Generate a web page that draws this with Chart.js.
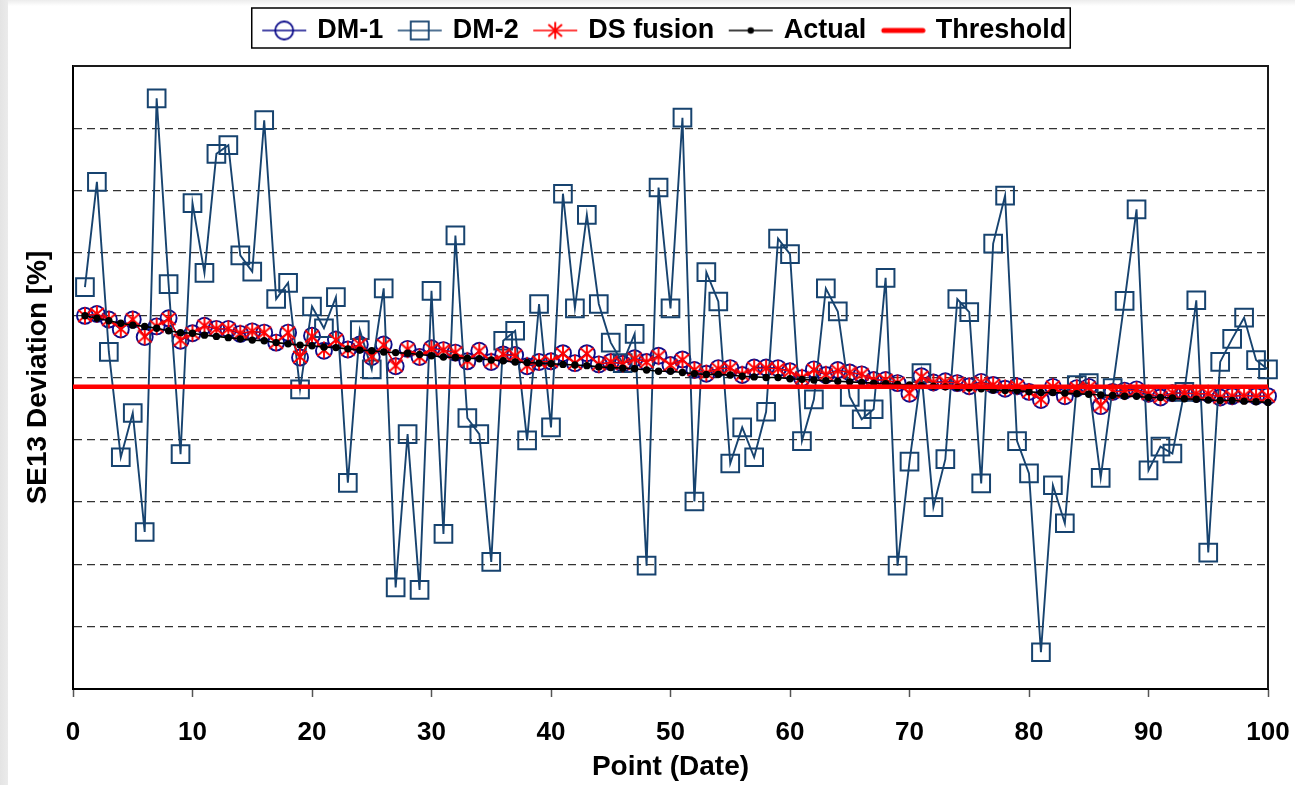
<!DOCTYPE html>
<html>
<head>
<meta charset="utf-8">
<title>SE13 Deviation</title>
<script src="https://cdn.jsdelivr.net/npm/chart.js@4.4.1/dist/chart.umd.min.js"></script>
<style>
    html, body { margin: 0; padding: 0; }
    body {
        width: 1295px;
        height: 785px;
        overflow: hidden;
        background:
            linear-gradient(to bottom, #ececec 0, #ffffff 6px) no-repeat 8px 0 / 100% 6px,
            linear-gradient(to right, #e4e4e4 0, #ebebeb 8px, #ffffff 8px);
    }
    canvas { display: block; }
</style>
</head>
<body>
<canvas id="deviationChart" width="1295" height="785"></canvas>
<script>
// Điểm đo (ngày) trên trục hoành
const points = Array.from({ length: 100 }, (_, i) => i + 1);
const xTickValues = [0, 10, 20, 30, 40, 50, 60, 70, 80, 90, 100];

// Giá trị (trục tung không có nhãn, thang 0..10)
const dm1Values = [
    5.99, 6.02, 5.93, 5.77, 5.93, 5.65, 5.82, 5.95, 5.59, 5.71,
    5.83, 5.78, 5.78, 5.70, 5.74, 5.72, 5.56, 5.72, 5.32, 5.67,
    5.43, 5.61, 5.45, 5.53, 5.33, 5.53, 5.18, 5.46, 5.33, 5.47,
    5.44, 5.40, 5.26, 5.43, 5.25, 5.37, 5.36, 5.18, 5.25, 5.26,
    5.39, 5.23, 5.39, 5.21, 5.25, 5.22, 5.31, 5.25, 5.35, 5.20,
    5.29, 5.12, 5.06, 5.15, 5.15, 5.04, 5.16, 5.16, 5.15, 5.10,
    4.99, 5.13, 5.04, 5.12, 5.08, 5.05, 4.96, 4.96, 4.91, 4.74,
    5.02, 4.92, 4.94, 4.91, 4.86, 4.93, 4.88, 4.82, 4.86, 4.77,
    4.64, 4.85, 4.70, 4.83, 4.85, 4.54, 4.77, 4.79, 4.81, 4.74,
    4.68, 4.75, 4.75, 4.74, 4.74, 4.68, 4.70, 4.72, 4.70, 4.70
];
const dm2Values = [
    6.45, 8.14, 5.41, 3.72, 4.43, 2.52, 9.48, 6.50, 3.77, 7.80,
    6.68, 8.59, 8.73, 6.96, 6.70, 9.13, 6.26, 6.52, 4.81, 6.14,
    5.79, 6.29, 3.31, 5.76, 5.13, 6.43, 1.63, 4.09, 1.59, 6.39,
    2.49, 7.28, 4.35, 4.09, 2.04, 5.59, 5.75, 3.99, 6.18, 4.20,
    7.95, 6.11, 7.61, 6.18, 5.56, 5.23, 5.70, 1.98, 8.05, 6.11,
    9.17, 3.01, 6.69, 6.22, 3.62, 4.20, 3.72, 4.45, 7.23, 6.98,
    3.98, 4.65, 6.43, 6.06, 4.69, 4.33, 4.49, 6.60, 1.98, 3.65,
    5.07, 2.92, 3.69, 6.26, 6.05, 3.30, 7.15, 7.92, 3.98, 3.46,
    0.59, 3.27, 2.66, 4.88, 4.91, 3.39, 4.83, 6.23, 7.70, 3.51,
    3.89, 3.78, 4.77, 6.24, 2.19, 5.25, 5.62, 5.96, 5.28, 5.13
];
const dsFusionValues = [
    5.99, 6.02, 5.93, 5.78, 5.93, 5.66, 5.82, 5.94, 5.60, 5.71,
    5.83, 5.78, 5.78, 5.71, 5.74, 5.72, 5.56, 5.72, 5.33, 5.66,
    5.44, 5.60, 5.45, 5.53, 5.34, 5.52, 5.19, 5.45, 5.33, 5.46,
    5.44, 5.40, 5.27, 5.42, 5.26, 5.37, 5.35, 5.19, 5.25, 5.26,
    5.38, 5.23, 5.38, 5.21, 5.25, 5.22, 5.30, 5.25, 5.34, 5.20,
    5.28, 5.12, 5.07, 5.14, 5.15, 5.05, 5.15, 5.15, 5.14, 5.10,
    5.00, 5.12, 5.05, 5.11, 5.08, 5.05, 4.96, 4.96, 4.91, 4.75,
    5.01, 4.92, 4.93, 4.91, 4.86, 4.92, 4.88, 4.83, 4.86, 4.77,
    4.65, 4.85, 4.71, 4.83, 4.84, 4.55, 4.77, 4.78, 4.80, 4.74,
    4.69, 4.75, 4.75, 4.74, 4.74, 4.68, 4.70, 4.71, 4.70, 4.70
];
const actualValues = [
    5.99, 5.95, 5.91, 5.87, 5.84, 5.82, 5.79, 5.75, 5.72, 5.71,
    5.68, 5.66, 5.64, 5.62, 5.60, 5.59, 5.56, 5.54, 5.52, 5.51,
    5.49, 5.48, 5.46, 5.44, 5.43, 5.41, 5.40, 5.39, 5.37, 5.35,
    5.33, 5.32, 5.31, 5.30, 5.28, 5.27, 5.25, 5.24, 5.23, 5.22,
    5.21, 5.20, 5.19, 5.17, 5.16, 5.15, 5.14, 5.12, 5.10, 5.10,
    5.08, 5.06, 5.05, 5.05, 5.04, 5.02, 5.01, 5.00, 5.00, 4.98,
    4.97, 4.96, 4.95, 4.94, 4.93, 4.92, 4.91, 4.90, 4.89, 4.88,
    4.87, 4.86, 4.85, 4.84, 4.83, 4.82, 4.80, 4.79, 4.79, 4.77,
    4.76, 4.76, 4.75, 4.74, 4.73, 4.72, 4.71, 4.70, 4.70, 4.68,
    4.68, 4.67, 4.66, 4.65, 4.64, 4.63, 4.63, 4.62, 4.61, 4.60
];
const thresholdValue = 4.85;
const thresholdRange = [0, 100];

const FONT = "'Liberation Sans', Arial, Helvetica, sans-serif";
const DM1_COLOR = '#0c0c8a';
const DM2_COLOR = '#17436f';
const RED = '#ff0000';

// Vẽ các ký hiệu tùy chỉnh (dấu sao, biểu tượng chú giải)
function makeCanvas(w, h, draw) {
    const c = document.createElement('canvas');
    c.width = w;
    c.height = h;
    draw(c.getContext('2d'), w, h);
    return c;
}

function drawAsterisk(g, cx, cy, r) {
    g.strokeStyle = RED;
    g.lineWidth = 1.9;
    g.beginPath();
    g.moveTo(cx, cy - r); g.lineTo(cx, cy + r);
    g.moveTo(cx - r * 0.8, cy - r * 0.7); g.lineTo(cx + r * 0.8, cy + r * 0.7);
    g.moveTo(cx + r * 0.8, cy - r * 0.7); g.lineTo(cx - r * 0.8, cy + r * 0.7);
    g.stroke();
}

const asteriskMarker = makeCanvas(20, 20, g => drawAsterisk(g, 10, 10, 8.5));

function legendIcon(color, lineWidth, marker) {
    return makeCanvas(46, 24, g => {
        g.strokeStyle = color;
        g.lineWidth = lineWidth;
        g.lineCap = lineWidth > 2 ? 'round' : 'butt';
        g.beginPath();
        g.moveTo(lineWidth > 2 ? 4 : 1, 12);
        g.lineTo(lineWidth > 2 ? 43 : 45, 12);
        g.stroke();
        if (marker) marker(g);
    });
}

const legendIcons = [
    legendIcon(DM1_COLOR, 1.5, g => {
        g.strokeStyle = DM1_COLOR; g.lineWidth = 1.8;
        g.beginPath(); g.arc(23, 12, 9, 0, Math.PI * 2); g.stroke();
    }),
    legendIcon(DM2_COLOR, 1.5, g => {
        g.strokeStyle = DM2_COLOR; g.lineWidth = 1.8;
        g.strokeRect(14, 3, 18, 18);
    }),
    legendIcon(RED, 1.5, g => drawAsterisk(g, 23, 12, 8.5)),
    legendIcon('#000000', 1.5, g => {
        g.fillStyle = '#000000';
        g.beginPath(); g.arc(23, 12, 3.2, 0, Math.PI * 2); g.fill();
    }),
    legendIcon(RED, 5, null)
];

// Cố định chiều cao chú giải, viền chú giải và khung vùng vẽ
const legendFitPatch = {
    id: 'legendFitPatch',
    afterInit(chart) {
        const legend = chart.legend;
        const fit = legend.fit;
        legend.fit = function() {
            fit.call(this);
            this.height = 66;
        };
    }
};

const plotFrame = {
    id: 'plotFrame',
    beforeDatasetsDraw(chart) {
        const { ctx, chartArea: a } = chart;
        ctx.save();
        ctx.strokeStyle = '#1a1a1a';
        ctx.lineWidth = 2;
        ctx.beginPath();
        ctx.moveTo(a.left, a.top);
        ctx.lineTo(a.right, a.top);
        ctx.lineTo(a.right, a.bottom);
        ctx.stroke();
        ctx.restore();
    },
    afterDraw(chart) {
        const boxes = chart.legend && chart.legend.legendHitBoxes;
        if (!boxes || !boxes.length) return;
        const first = boxes[0];
        const last = boxes[boxes.length - 1];
        const ctx = chart.ctx;
        ctx.save();
        ctx.strokeStyle = '#000000';
        ctx.lineWidth = 1.5;
        ctx.strokeRect(first.left - 13, first.top - 9, last.left + last.width + 17 - first.left, first.height + 13);
        ctx.restore();
    }
};

Chart.defaults.font.family = FONT;
Chart.defaults.color = '#000000';

const deviationChart = new Chart(document.getElementById('deviationChart'), {
    type: 'line',
    data: {
        labels: points,
        datasets: [{
            label: 'DM-1',
            data: dm1Values,
            borderColor: DM1_COLOR,
            borderWidth: 1.5,
            pointStyle: 'circle',
            pointRadius: 8,
            pointBorderWidth: 1.9,
            pointBorderColor: DM1_COLOR,
            pointBackgroundColor: 'rgba(0,0,0,0)',
            clip: false,
            order: 5
        }, {
            label: 'DM-2',
            data: dm2Values,
            borderColor: DM2_COLOR,
            borderWidth: 1.9,
            pointStyle: 'rect',
            pointRadius: 12.5,
            pointBorderWidth: 2,
            pointBorderColor: DM2_COLOR,
            pointBackgroundColor: 'rgba(0,0,0,0)',
            clip: false,
            order: 4
        }, {
            label: 'DS fusion',
            data: dsFusionValues,
            borderColor: RED,
            borderWidth: 1.4,
            pointStyle: asteriskMarker,
            pointRadius: 8,
            clip: false,
            order: 3
        }, {
            label: 'Actual',
            data: actualValues,
            borderColor: '#000000',
            borderWidth: 1.6,
            pointStyle: 'circle',
            pointRadius: 3.7,
            pointBorderWidth: 0,
            pointBackgroundColor: '#000000',
            clip: false,
            order: 2
        }, {
            label: 'Threshold',
            data: thresholdRange.map(x => ({ x: x, y: thresholdValue })),
            borderColor: RED,
            borderWidth: 4.5,
            pointRadius: 0,
            clip: false,
            order: 1
        }]
    },
    options: {
        responsive: false,
        animation: false,
        devicePixelRatio: 1,
        layout: { autoPadding: false, padding: { left: 36, right: 0, top: 0, bottom: 0 } },
        plugins: {
            legend: {
                position: 'top',
                labels: {
                    usePointStyle: true,
                    pointStyleWidth: 39,
                    padding: 17,
                    color: '#000000',
                    font: { size: 27, weight: 'bold' },
                    generateLabels: chart => chart.data.datasets.map((ds, i) => ({
                        text: ds.label,
                        datasetIndex: i,
                        pointStyle: legendIcons[i],
                        fontColor: '#000000',
                        fillStyle: 'rgba(0,0,0,0)',
                        strokeStyle: 'rgba(0,0,0,0)',
                        lineWidth: 0,
                        hidden: false
                    }))
                }
            },
            tooltip: { enabled: false }
        },
        scales: {
            x: {
                type: 'linear',
                min: 0,
                max: 100,
                afterBuildTicks: scale => { scale.ticks = xTickValues.map(v => ({ value: v })); },
                afterFit: scale => { scale.height = 96; },
                ticks: {
                    color: '#000000',
                    padding: 4,
                    maxRotation: 0,
                    font: { size: 26, weight: 'bold', lineHeight: '64px' }
                },
                grid: {
                    display: true,
                    drawOnChartArea: false,
                    drawTicks: true,
                    tickLength: 8,
                    tickColor: '#555555',
                    tickWidth: 1.5
                },
                border: { display: true, color: '#000000', width: 2 },
                title: {
                    display: true,
                    text: 'Point (Date)',
                    color: '#000000',
                    font: { size: 28, weight: 'bold' },
                    padding: { top: 0, bottom: 1 }
                }
            },
            y: {
                type: 'linear',
                min: 0,
                max: 10,
                afterFit: scale => { scale.width = 37; },
                ticks: { display: false, stepSize: 1 },
                grid: {
                    drawTicks: false,
                    lineWidth: 1.2,
                    color: c => (c.tick && (c.tick.value === 0 || c.tick.value === 10)) ? 'rgba(0,0,0,0)' : '#333333'
                },
                border: { display: true, color: '#000000', width: 2, dash: [8, 5] },
                title: {
                    display: true,
                    text: 'SE13 Deviation [%]',
                    color: '#000000',
                    font: { size: 28, weight: 'bold' },
                    padding: { top: -15, bottom: 0 }
                }
            },
            yRight: {
                position: 'right',
                display: true,
                afterFit: scale => { scale.width = 27; },
                ticks: { display: false },
                grid: { display: false },
                border: { display: false }
            }
        }
    },
    plugins: [legendFitPatch, plotFrame]
});
</script>
</body>
</html>
